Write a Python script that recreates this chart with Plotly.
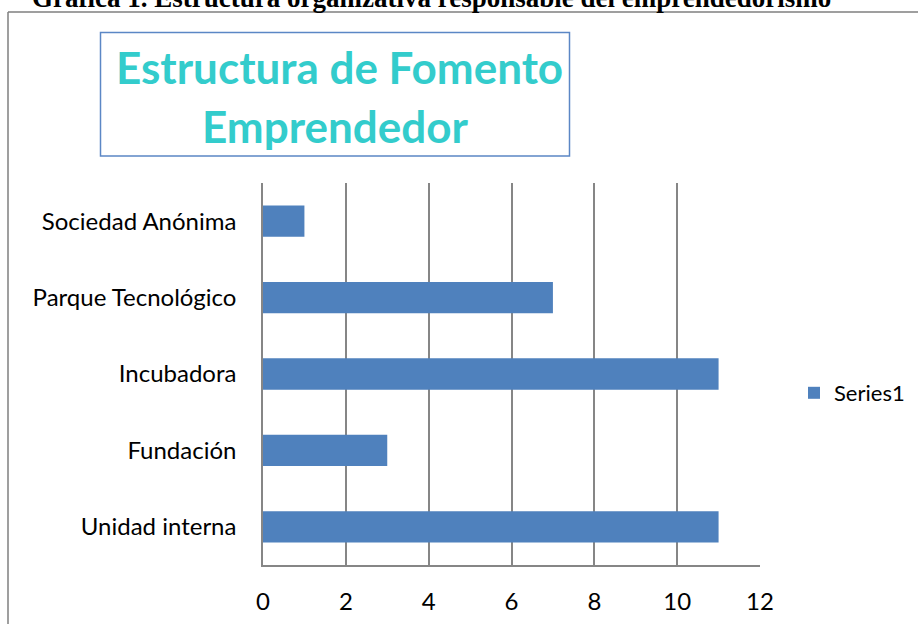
import plotly.graph_objects as go

# Organisational structures (bottom to top as drawn) and their counts
categories = ["Unidad interna", "Fundación", "Incubadora", "Parque Tecnológico", "Sociedad Anónima"]
counts = [11, 3, 11, 7, 1]
x_ticks = [0, 2, 4, 6, 8, 10, 12]
series_name = "Series1"

W, H = 918, 624
L, R, T, B = 263, 760, 183, 565  # plot area in pixels

BAR = "#4F81BD"
GRID = "#868686"
FONT = "Lato"
LABEL_SIZE = 24


def px_x(v):
    return (v - L) / (R - L)


def px_y(v):
    return (B - v) / (B - T)


fig = go.Figure(
    go.Bar(
        y=categories,
        x=counts,
        orientation="h",
        name=series_name,
        marker=dict(color=BAR, line=dict(width=0)),
        showlegend=True,
    )
)

fig.update_layout(
    width=W,
    height=H,
    margin=dict(l=L, r=W - R, t=T, b=H - B, pad=0, autoexpand=False),
    paper_bgcolor="white",
    plot_bgcolor="white",
    bargap=0.59,
    font=dict(family=FONT, size=LABEL_SIZE, color="black"),
    showlegend=True,
    legend=dict(
        x=px_x(794),
        y=px_y(393),
        xanchor="left",
        yanchor="middle",
        font=dict(family=FONT, size=22, color="black"),
        bgcolor="rgba(0,0,0,0)",
        borderwidth=0,
    ),
    xaxis=dict(
        range=[0, 12],
        tickvals=x_ticks,
        showgrid=True,
        gridcolor=GRID,
        gridwidth=1.5,
        zeroline=False,
        showline=True,
        linecolor=GRID,
        linewidth=1.5,
        ticks="",
        ticklabelstandoff=14,
        tickfont=dict(family=FONT, size=LABEL_SIZE),
        fixedrange=True,
    ),
    yaxis=dict(
        categoryorder="array",
        categoryarray=categories,
        showgrid=False,
        zeroline=False,
        showline=True,
        linecolor=GRID,
        linewidth=1.5,
        ticks="",
        ticklabelstandoff=20,
        tickfont=dict(family=FONT, size=LABEL_SIZE),
        fixedrange=True,
    ),
)

shapes = [
    # outer frame (top and left edges)
    dict(type="line", xref="paper", yref="paper", x0=px_x(8), x1=px_x(W + 5),
         y0=px_y(12), y1=px_y(12), line=dict(color="#7f7f7f", width=1.5)),
    dict(type="line", xref="paper", yref="paper", x0=px_x(8), x1=px_x(8),
         y0=px_y(12), y1=px_y(H + 5), line=dict(color="#7f7f7f", width=1.5)),
    # title box
    dict(type="rect", xref="paper", yref="paper", x0=px_x(100.5), x1=px_x(569.5),
         y0=px_y(32.5), y1=px_y(156), line=dict(color="#5B87C5", width=1.5),
         fillcolor="white"),
]
fig.update_layout(shapes=shapes)

annotations = [
    dict(text="<b>Gráfica 1. Estructura organizativa responsable del emprendedorismo</b>",
         xref="paper", yref="paper", x=px_x(431), y=px_y(-2), xanchor="center",
         yanchor="middle", showarrow=False,
         font=dict(family="Liberation Serif", size=27, color="black")),
    dict(text="<b>Estructura de Fomento</b>", xref="paper", yref="paper",
         x=px_x(339), y=px_y(67), xanchor="center", yanchor="middle", showarrow=False,
         font=dict(family=FONT, size=44, color="#33CCCC")),
    dict(text="<b>Emprendedor</b>", xref="paper", yref="paper",
         x=px_x(335), y=px_y(126), xanchor="center", yanchor="middle", showarrow=False,
         font=dict(family=FONT, size=44, color="#33CCCC")),
]
fig.update_layout(annotations=annotations)

fig.write_html("out.html", include_plotlyjs=True, config={"displayModeBar": False})
